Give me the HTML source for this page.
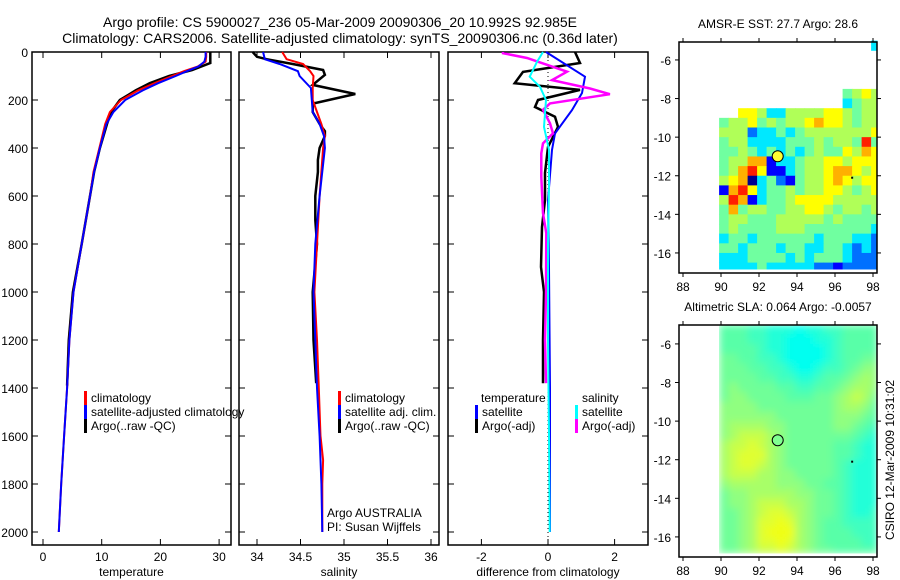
<!DOCTYPE html>
<html><head><meta charset="utf-8"><style>
body{margin:0;background:#fff}
svg{display:block;font-family:"Liberation Sans",sans-serif}
text{fill:#000}
</style></head><body>
<svg id="fig" width="900" height="580" viewBox="0 0 900 580">
<defs>
<filter id="blur" x="0" y="0" width="1" height="1"><feGaussianBlur stdDeviation="4" edgeMode="duplicate"/></filter>
<clipPath id="clipSLA"><rect x="719" y="325" width="158" height="232"/></clipPath>
</defs>
<text x="340" y="27" font-size="14" text-anchor="middle">Argo profile: CS 5900027_236 05-Mar-2009 20090306_20 10.992S 92.985E</text>
<text x="340" y="43" font-size="14" text-anchor="middle">Climatology: CARS2006. Satellite-adjusted climatology: synTS_20090306.nc (0.36d later)</text>
<g id="g"></g>
</svg>
<script>
// ---------- data ----------
const depthT = [0,20,40,60,80,100,130,160,200,250,300,400,500,600,800,1000,1200,1400,1600,1800,2000];
const tempClim = [27.8,27.8,27.7,26.4,24.0,22.0,19.0,16.2,13.3,11.4,10.6,9.6,8.6,8.0,6.6,5.2,4.5,4.1,3.6,3.1,2.7];
const tempSat = [27.7,27.7,27.5,26.5,24.5,22.6,19.6,17.0,14.0,12.0,10.8,9.7,8.7,8.0,6.6,5.2,4.5,4.1,3.6,3.1,2.7];
const depthTA = [0,20,46,75,100,130,160,200,250,300,400,500,600,800,1000,1200,1390];
const tempArgo = [28.5,28.5,28.5,25.4,21.5,18.2,15.8,13.1,11.6,10.9,9.7,8.7,8.0,6.6,5.1,4.4,4.1];

const depthSA = [0,20,30,50,75,95,137,175,215,250,300,330,350,400,450,500,600,700,800,1000,1200,1380];
const salArgo = [33.95,34.0,34.11,34.41,34.76,34.78,34.64,35.13,34.64,34.64,34.72,34.78,34.78,34.72,34.7,34.70,34.67,34.67,34.69,34.64,34.65,34.68];
const depthS = [0,30,50,80,100,150,200,250,300,350,400,600,800,1000,1200,1400,1600,1700,1800,2000];
const salClim = [34.29,34.34,34.53,34.61,34.65,34.64,34.64,34.69,34.74,34.78,34.76,34.72,34.69,34.66,34.69,34.71,34.73,34.76,34.75,34.75];
const salSat = [34.07,34.09,34.26,34.47,34.49,34.62,34.63,34.64,34.72,34.77,34.78,34.72,34.67,34.65,34.67,34.69,34.72,34.73,34.74,34.75];

const depthDM = [0,5,25,82,117,152,176,214,241,297,339,381,422,520,672,755,1000,1200,1380];
const dSalArgo = [-1.35,-1.35,-0.63,0.57,0.12,1.26,1.86,0.06,-0.15,0.06,0.15,-0.15,-0.2,-0.2,-0.15,-0.05,-0.06,-0.09,-0.06];
const depthDC = [0,41,103,145,200,312,408,562,800,1200,1600,2000];
const dSalSat = [-0.15,-0.33,-0.55,-0.24,-0.06,-0.12,0.03,0.03,0.0,0.0,0.03,0.05];
const depthDB = [0,103,171,242,339,408,617,900,1400,2000];
const dTempSat = [-0.06,1.11,1.02,0.72,0.21,0.12,0.0,0.03,0.06,0.06];
const depthDK = [0,46,83,130,158,200,229,270,312,396,504,617,729,896,1000,1200,1380];
const dTempArgo = [0.81,0.96,-0.75,-1.0,0.96,-0.3,-0.39,0.21,0.3,0.0,-0.09,-0.09,-0.18,-0.21,-0.12,-0.15,-0.15];

const depthTicks = [0,200,400,600,800,1000,1200,1400,1600,1800,2000];
const tempTicks = [0,10,20,30];
const salTicks = [34,34.5,35,35.5,36];
const salTickLabels = ["34","34.5","35","35.5","36"];
const diffTicks = [-2,0,2];
const lonTicks = [88,90,92,94,96,98];
const latTicks = [-6,-8,-10,-12,-14,-16];

// SST grid: rows from lat -5 going south in 0.5 deg, cols lon 90..98 in 0.5 deg
const sstRowLat = [-5,-5.5,-6,-6.5,-7,-7.5,-8,-8.5,-9,-9.5,-10,-10.5,-11,-11.5,-12,-12.5,-13,-13.5,-14,-14.5,-15,-15.5,-16,-16.5];
const sstRows = [
"................3",".................",".................",".................",".................",
".............4565",".............3455","..665335555665455","45564545567665455","55523343455555556",
"45533334445455484","44543434345446576","45577133455665666","45786113455677656","56703421455676566",
"17863445455665456","58713445666655555","47455445566545545","45544455555454444","45444455544444443",
"34434444443444332","44344434433443232","33344443434443222","33334333332212222"];
const sstColors = ["#000090","#0000ff","#0070ff","#00e8ff","#70ffa0","#b0ff58","#ffff00","#ffb000","#ff2000","#900000"];
const slaRowLat = sstRowLat;
const slaRows = [
"33322111011223333","33322110001123333","33332110000123333","44332210000123344","44433221001223455",
"44443322112334565","45444433223345665","45544443334456764","55554444444456653","55555544444455543",
"56666554444455432","56777654444444321","67787654444433211","67888654444433211","67887654444432111",
"67776655444432111","56666655544332111","45566666554432111","45567776654432111","44567887654432112",
"44568898654332222","44568999654333222","44568898654333322","44567787654433333"];
const slaColors = ["#00fff0","#20ffd8","#40ffc0","#58ffa8","#70ff98","#90ff80","#a8ff68","#c8ff48","#e0ff30","#f0ff18"];
const argoLon = 92.985, argoLat = -10.992;

// ---------- drawing ----------
const NS="http://www.w3.org/2000/svg";
const G=document.getElementById('g');
function el(tag,attrs,parent){const e=document.createElementNS(NS,tag);for(const k in attrs)e.setAttribute(k,attrs[k]);(parent||G).appendChild(e);return e;}
function txt(x,y,s,size,anchor,parent){const t=el('text',{x:x,y:y,'font-size':size||12,'text-anchor':anchor||'start'},parent);t.textContent=s;return t;}

const yD = d => 52 + d*0.24;
function panel(name,x0,x1,xs,ticks,labels,xlabel){
  const g=el('g',{});
  
  
  const fr=el('rect',{x:x0,y:52,width:x1-x0,height:493,fill:'none',stroke:'#000','stroke-width':1.5},g);
  
  
  depthTicks.forEach(d=>{
    el('line',{x1:x0,x2:x0+6,y1:yD(d),y2:yD(d),stroke:'#000'},g);
    el('line',{x1:x1-6,x2:x1,y1:yD(d),y2:yD(d),stroke:'#000'},g);
  });
  ticks.forEach((v,i)=>{
    const x=xs(v);
    el('line',{x1:x,x2:x,y1:545,y2:539,stroke:'#000'},g);
    el('line',{x1:x,x2:x,y1:52,y2:58,stroke:'#000'},g);
    const t=txt(x,561,labels[i],12,'middle',g);
    
    
  });
  const xl=txt((x0+x1)/2,576,xlabel,12,'middle',g);
  
  
  return g;
}
function line(g,xs,depths,vals,color,w,name){
  const pts=depths.map((d,i)=>xs(vals[i]).toFixed(1)+','+yD(d).toFixed(1)).join(' ');
  const p=el('polyline',{points:pts,fill:'none',stroke:color,'stroke-width':w,'stroke-linejoin':'miter'},g);
  
  
}
function legend(g,x,y,color,label,name){
  if(color){el('rect',{x:x-7,y:y-11,width:3,height:14,fill:color},g);}
  const t=txt(x,y,label,12,'start',g);
  
  
}

depthTicks.forEach(d=>{
  const t=txt(28,yD(d)+5,String(d),12,'end');
  
  
});

const xT = v => 43 + v*5.87;
const p1=panel('temperature-panel',32,231,xT,tempTicks,tempTicks.map(String),'temperature');
line(p1,xT,depthTA,tempArgo,'#000',2.5,'temp-argo-line');
line(p1,xT,depthT,tempClim,'#f00',2,'temp-climatology-line');
line(p1,xT,depthT,tempSat,'#00f',2,'temp-satellite-line');
legend(p1,91,402,'#f00','climatology','legend-climatology');
legend(p1,91,416,'#00f','satellite-adjusted climatology','legend-satellite');
legend(p1,91,430,'#000','Argo(..raw -QC)','legend-argo');

const xS = v => 257 + (v-34)*87;
const p2=panel('salinity-panel',239,439,xS,salTicks,salTickLabels,'salinity');
line(p2,xS,depthSA,salArgo,'#000',2.5,'sal-argo-line');
line(p2,xS,depthS,salClim,'#f00',2,'sal-climatology-line');
line(p2,xS,depthS,salSat,'#00f',2,'sal-satellite-line');
legend(p2,345,402,'#f00','climatology','legend-climatology');
legend(p2,345,416,'#00f','satellite adj. clim.','legend-satellite');
legend(p2,345,430,'#000','Argo(..raw -QC)','legend-argo');
legend(p2,327,517,null,'Argo AUSTRALIA','agency-label');
legend(p2,327,531,null,'PI: Susan Wijffels','pi-label');

const xDf = v => 548 + v*33.3;
const p3=panel('difference-panel',448,648,xDf,diffTicks,diffTicks.map(String),'difference from climatology');
el('line',{x1:xDf(0),x2:xDf(0),y1:52,y2:545,stroke:'#000','stroke-dasharray':'1,3'},p3);
line(p3,xDf,depthDK,dTempArgo,'#000',2.5,'diff-temp-argo-line');
line(p3,xDf,depthDB,dTempSat,'#00f',2,'diff-temp-satellite-line');
line(p3,xDf,depthDM,dSalArgo,'#f0f',2.5,'diff-sal-argo-line');
line(p3,xDf,depthDC,dSalSat,'#0ff',2,'diff-sal-satellite-line');
legend(p3,481,402,null,'temperature','legend-temperature-header');
legend(p3,482,416,'#00f','satellite','legend-temp-satellite');
legend(p3,482,430,'#000','Argo(-adj)','legend-temp-argo');
legend(p3,582,402,null,'salinity','legend-salinity-header');
legend(p3,582,416,'#0ff','satellite','legend-sal-satellite');
legend(p3,582,430,'#f0f','Argo(-adj)','legend-sal-argo');

function map(name,y0,y1,latTop,latPerPx,rowsLat,rows,colors,title,blur){
  const g=el('g',{});
  
  
  const xL = lon => 683 + (lon-88)*19;
  const yL = lat => y0 + (latTop-lat)/latPerPx;
  const cells=el('g',blur?{'clip-path':'url(#clipSLA)'}:{},g);
  const inner=el('g',blur?{filter:'url(#blur)'}:{},cells);
  rows.forEach((r,ri)=>{
    for(let ci=0;ci<r.length;ci++){
      const c=r[ci]; if(c==='.')continue;
      const lon=90+ci*0.5; const lat=rowsLat[ri];
      const x=Math.max(xL(lon)-1.9,719), x2=Math.min(xL(lon+0.5)-1.9,877);
      const ya=yL(lat), yb=Math.min(yL(lat-0.5),y1-4);
      const rc=el('rect',{x:x,y:ya,width:Math.max(0,x2-x)+0.5,height:Math.max(0,yb-ya)+0.5,fill:colors[+c]},inner);
      
      
    }
  });
  el('rect',{x:679,y:y0,width:198,height:y1-y0,fill:'none',stroke:'#000','stroke-width':1.5},g);
  lonTicks.forEach(v=>{
    const x=xL(v);
    el('line',{x1:x,x2:x,y1:y0,y2:y0-4,stroke:'#000'},g);
    el('line',{x1:x,x2:x,y1:y1,y2:y1+4,stroke:'#000'},g);
    const t=txt(x,y1+18,String(v),12,'middle',g);
    
    
  });
  latTicks.forEach(v=>{
    const y=yL(v);
    el('line',{x1:679,x2:675,y1:y,y2:y,stroke:'#000'},g);
    el('line',{x1:877,x2:881,y1:y,y2:y,stroke:'#000'},g);
    const t=txt(671,y+5,String(v),12,'end',g);
    
    
  });
  const mk=el('circle',{cx:xL(argoLon),cy:yL(argoLat),r:5.5,fill:blur?'#80ff90':'#ffff30',stroke:'#000','stroke-width':1},g);
  
  
  el('rect',{x:xL(96.85),y:yL(-12.05),width:2,height:2,fill:'#000'},g);
  const tt=txt(778,y0-14,title,12,'middle',g);
  
  
}
map('sst-map',42,273,-5.07,1/19.3,sstRowLat,sstRows,sstColors,'AMSR-E SST: 27.7 Argo: 28.6',false);
map('sla-map',325,557,-5.02,1/19.3,slaRowLat,slaRows,slaColors,'Altimetric SLA: 0.064 Argo: -0.0057',true);

const cs=txt(0,0,'CSIRO 12-Mar-2009 10:31:02',12,'middle');
cs.setAttribute('transform','translate(894,460) rotate(-90)');


</script>
</body></html>
